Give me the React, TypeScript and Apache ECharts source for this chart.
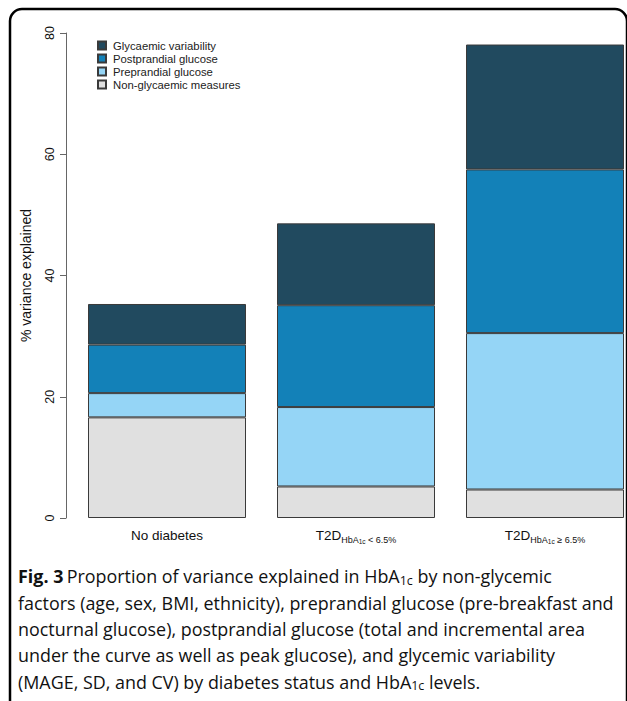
import React, { useEffect, useRef } from "react";
import * as echarts from "echarts";

const categories = ["No diabetes", "T2D<6.5", "T2D>=6.5"];
const nonGlycaemic = [16.6, 5.2, 4.7];
const preprandial = [4.0, 13.1, 25.8];
const postprandial = [8.0, 16.8, 27.0];
const glycaemicVar = [6.7, 13.5, 20.6];
const yTicks = { min: 0, max: 80, interval: 20 };

const seriesNames = [
  "Non-glycaemic measures",
  "Preprandial glucose",
  "Postprandial glucose",
  "Glycaemic variability",
];
const seriesColors = ["#e0e0e0", "#95d5f6", "#1381b8", "#214a5f"];
const seriesData = [nonGlycaemic, preprandial, postprandial, glycaemicVar];

const captionLines = [
  "{b|Fig. 3} {n|Proportion of variance explained in HbA}{s|1c}{n| by non-glycemic}",
  "{n|factors (age, sex, BMI, ethnicity), preprandial glucose (pre-breakfast and}",
  "{n|nocturnal glucose), postprandial glucose (total and incremental area}",
  "{n|under the curve as well as peak glucose), and glycemic variability}",
  "{n|(MAGE, SD, and CV) by diabetes status and HbA}{s|1c}{n| levels.}",
];

export default function App() {
  const ref = useRef<HTMLDivElement>(null);
  useEffect(() => {
    document.body.style.margin = "0";
    const chart = echarts.init(ref.current!, null, { renderer: "svg" });
    const font = "Liberation Sans";
    const capFont = "Open Sans";
    chart.setOption({
      animation: false,
      backgroundColor: "#ffffff",
      grid: {
        left: 72.5,
        width: 567,
        top: 33,
        height: 485,
        containLabel: false,
        outerBoundsMode: "none",
      },
      legend: {
        orient: "vertical",
        left: 97,
        top: 40,
        padding: 0,
        itemWidth: 8,
        itemHeight: 8,
        itemGap: 2,
        icon: "rect",
        data: [
          "Glycaemic variability",
          "Postprandial glucose",
          "Preprandial glucose",
          "Non-glycaemic measures",
        ],
        textStyle: { fontFamily: font, fontSize: 11.3, color: "#222", padding: [0, 0, 0, 2] },
        selectedMode: false,
      },
      xAxis: {
        type: "category",
        data: categories,
        axisLine: { show: false },
        axisTick: { show: false },
        axisLabel: {
          interval: 0,
          margin: 10,
          color: "#111",
          formatter: (v: string) => {
            if (v === "No diabetes") return "{m|No diabetes}";
            if (v === "T2D<6.5") return "{m|T2D}{s|HbA}{ss|1c}{s| < 6.5%}";
            return "{m|T2D}{s|HbA}{ss|1c}{s| ≥ 6.5%}";
          },
          rich: {
            m: { fontFamily: font, fontSize: 13.5, lineHeight: 15, verticalAlign: "top", color: "#111" },
            s: { fontFamily: font, fontSize: 9, lineHeight: 9, padding: [7, 0, 0, 0], verticalAlign: "top", color: "#111" },
            ss: { fontFamily: font, fontSize: 6.5, lineHeight: 7, padding: [10, 0, 0, 0], verticalAlign: "top", color: "#111" },
          },
        },
      },
      yAxis: {
        type: "value",
        min: yTicks.min,
        max: yTicks.max,
        interval: yTicks.interval,
        offset: 6.5,
        name: "% variance explained",
        nameLocation: "middle",
        nameRotate: 90,
        nameGap: 33,
        nameTextStyle: { fontFamily: font, fontSize: 14, color: "#111" },
        axisLine: { show: true, lineStyle: { color: "#666", width: 1 } },
        axisTick: { show: true, length: 6, lineStyle: { color: "#666" } },
        splitLine: { show: false },
        axisLabel: { rotate: 90, margin: 10, fontFamily: font, fontSize: 12.5, color: "#111" },
      },
      series: seriesNames.map((name, i) => ({
        name,
        type: "bar",
        stack: "total",
        barWidth: 158,
        data: seriesData[i],
        itemStyle: { color: seriesColors[i], borderColor: "#3a3a3a", borderWidth: 1 },
      })),
      graphic: [
        {
          type: "rect",
          shape: { x: 10, y: 9, width: 617, height: 800, r: 12 },
          style: { fill: "none", stroke: "#000", lineWidth: 2.5 },
          silent: true,
        },
        {
          type: "text",
          left: 18,
          top: 566,
          style: {
            text: captionLines.join("\n"),
            rich: {
              b: { fontFamily: capFont, fontSize: 17.9, fontWeight: "bold", lineHeight: 26.3, fill: "#111" },
              n: { fontFamily: capFont, fontSize: 17.9, lineHeight: 26.3, fill: "#111" },
              s: { fontFamily: capFont, fontSize: 12.5, lineHeight: 12, padding: [8, 0, 0, 0], fill: "#111" },
            },
          },
        },
      ],
    });
    return () => chart.dispose();
  }, []);
  return <div ref={ref} style={{ width: 627, height: 701 }} />;
}
